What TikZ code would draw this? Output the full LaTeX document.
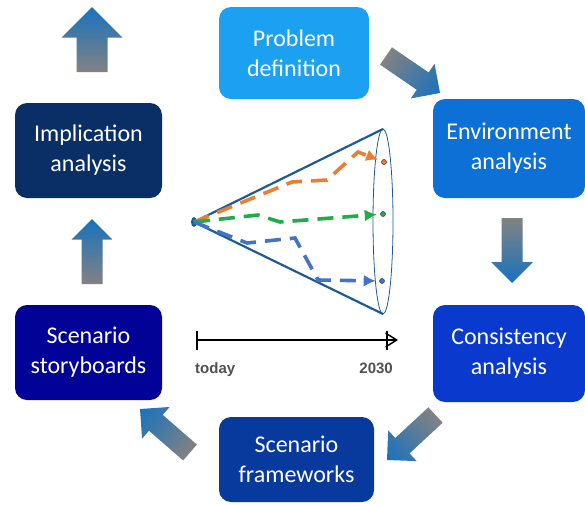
\documentclass[tikz,border=0pt]{standalone}
\usepackage{fontspec}
\setmainfont{Carlito}
\newfontfamily\axisfont{Liberation Sans}
\usetikzlibrary{calc,arrows.meta,positioning,shapes.geometric}

\definecolor{probblue}{RGB}{28,160,242}
\definecolor{envblue}{RGB}{12,112,214}
\definecolor{consblue}{RGB}{10,58,205}
\definecolor{frameblue}{RGB}{8,58,158}
\definecolor{storyblue}{RGB}{2,2,150}
\definecolor{implblue}{RGB}{10,46,102}
\definecolor{arrowblue}{RGB}{24,114,190}
\definecolor{arrowgray}{RGB}{130,130,130}
\definecolor{conecol}{RGB}{30,90,150}
\definecolor{pathorange}{RGB}{237,125,49}
\definecolor{pathgreen}{RGB}{32,172,72}
\definecolor{pathblue}{RGB}{68,114,196}
\definecolor{labelgray}{RGB}{80,80,80}

\tikzset{
	phase/.style={rounded corners=12pt, inner sep=0pt, text=white, align=center,
		font=\fontsize{24}{30}\selectfont},
	fatarrow/.style={left color=arrowgray, right color=arrowblue, draw=none},
	coneline/.style={draw=conecol, line width=2.2pt},
	rimline/.style={draw=conecol, line width=0.8pt},
	scenpath/.style={line width=3.6pt, dash pattern=on 16pt off 9pt, shorten >=3.5pt,
		-{Latex[length=12pt,width=12pt]}},
	enddot/.style={circle, inner sep=0pt, minimum size=5pt, draw=black!70, line width=0.6pt},
	timeline/.style={line width=1.5pt},
	yearlabel/.style={font=\axisfont\bfseries\fontsize{15}{18}\selectfont, text=labelgray, inner sep=0pt}
}

% fat shaded arrow from #1 (tail) to #2 (tip), shaft and head half widths #3 and #4
\newcommand{\fatarrow}[4]{%
	\path let \p1=($(#2)-(#1)$), \n1={atan2(\y1,\x1)}, \n2={veclen(\x1,\y1)} in
		\pgfextra{\xdef\farang{\n1}\xdef\farlen{\n2}};
	\pgfmathsetmacro{\farneck}{\farlen-#4}
	\shade[fatarrow, transform canvas={shift={(#1)}, rotate=\farang}]
		(0,-#3) -- (\farneck,-#3) -- (\farneck,-#4) -- (\farlen,0)
		-- (\farneck,#4) -- (\farneck,#3) -- (0,#3) -- cycle;
}

\begin{document}
\begin{tikzpicture}[x=1pt, y=-1pt]

		\useasboundingbox (0,0) rectangle (585,504);

		% Draw the six phases
		\node[phase, fill=probblue, minimum width=150pt, minimum height=92pt] (prob) at (294,53) {Problem\\definition};
		\node[phase, fill=envblue, minimum width=152pt, minimum height=99pt] (env) at (509,148.5) {Environment\\analysis};
		\node[phase, fill=consblue, minimum width=152pt, minimum height=97pt] (cons) at (509,353.5) {Consistency\\analysis};
		\node[phase, fill=frameblue, minimum width=155pt, minimum height=85pt] (frame) at (296.5,459.5) {Scenario\\frameworks};
		\node[phase, fill=storyblue, minimum width=147pt, minimum height=95pt] (story) at (88.5,352.5) {Scenario\\storyboards};
		\node[phase, fill=implblue, minimum width=147pt, minimum height=95pt] (impl) at (88.5,150.5) {Implication\\analysis};

		% Draw the fat arrows between the phases
		\coordinate (pe1) at (386,56);    \coordinate (pe2) at (440,93);
		\coordinate (ec1) at (512,218);   \coordinate (ec2) at (512,283);
		\coordinate (cf1) at (435.5,415); \coordinate (cf2) at (387,460);
		\coordinate (fs1) at (190,452.5); \coordinate (fs2) at (140,409);
		\coordinate (si1) at (92,284);    \coordinate (si2) at (92,219);
		\coordinate (io1) at (92,72);     \coordinate (io2) at (92,7);
		\fatarrow{pe1}{pe2}{10.5}{21}
		\fatarrow{ec1}{ec2}{10.5}{21}
		\fatarrow{cf1}{cf2}{10.5}{21}
		\fatarrow{fs1}{fs2}{10.5}{21}
		\fatarrow{si1}{si2}{10.5}{20.5}
		\fatarrow{io1}{io2}{15.5}{30.5}

		% Draw the cone of futures
		\node[ellipse, fill=conecol, minimum width=6pt, minimum height=10pt, inner sep=0pt] (apex) at (194,222) {};
		\coordinate (rim) at (383,221.5);
		\coordinate (rimtop) at (383,129);
		\coordinate (rimbot) at (383,314);
		\draw[rimline] (rim) ellipse [x radius=10, y radius=92.5];
		\draw[coneline] (apex.center) -- (rimtop);
		\draw[coneline] (apex.center) -- (rimbot);

		\node[enddot, fill=pathorange] (d1) at (384,162) {};
		\node[enddot, fill=pathgreen] (d2) at (383,214) {};
		\node[enddot, fill=pathblue] (d3) at (382,281) {};

		\draw[scenpath, pathorange] (apex.center) -- (292,182) -- (327,180) -- (358,152) -- (d1);
		\draw[scenpath, pathgreen] (apex.center) -- (258,215) -- (280,222) -- (d2);
		\draw[scenpath, pathblue] (apex.center) -- (247,243) -- (295,238) -- (318,280) -- (d3);

		% Draw the time line
		\coordinate (now) at (196,340);
		\coordinate (then) at (387,340);
		\coordinate (tend) at (398,340);
		\draw[timeline, {Bar[width=19pt]}-{Straight Barb[length=11pt,width=14pt]}] (now) -- (tend);
		\draw[timeline] ($(then)+(0,-9.5)$) -- ($(then)+(0,9.5)$);
		\node[yearlabel, anchor=base west] (today) at (195,373) {today};
		\node[yearlabel, anchor=base east] (year) at (393,373) {2030};

	\end{tikzpicture}
\end{document}
